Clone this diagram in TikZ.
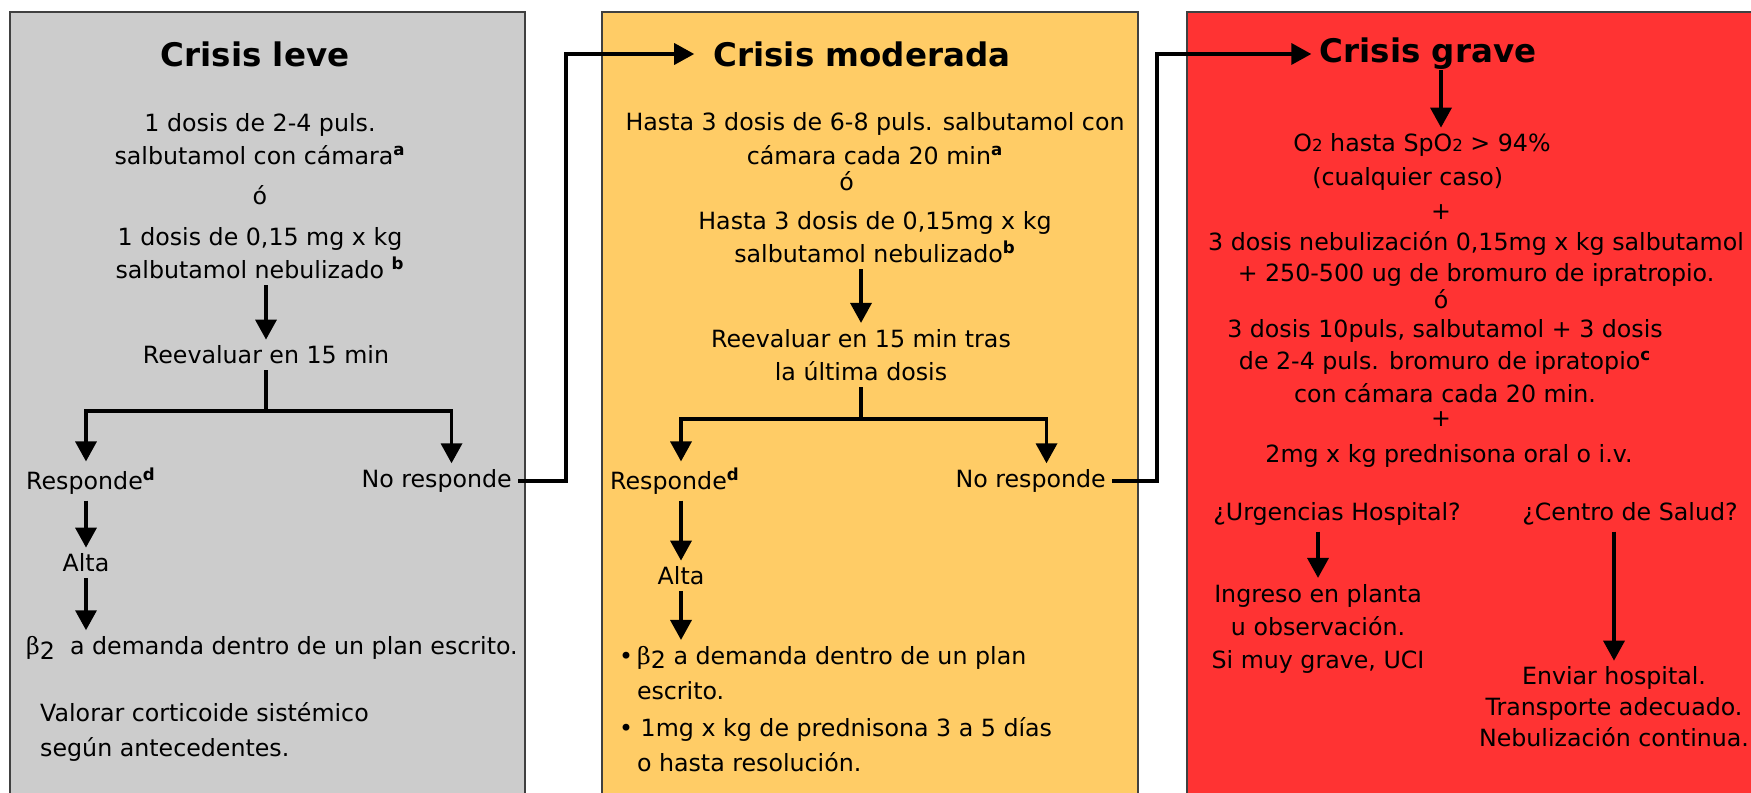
\documentclass[tikz,border=0pt]{standalone}
\usepackage{fontspec}
\setmainfont{DejaVu Sans}
\newfontfamily\betafont{DejaVu Serif}
\usepackage{amsmath}
\usepackage{xcolor}
\usepackage{tikz}
\usetikzlibrary{arrows.meta,positioning,calc}

\definecolor{leve}{HTML}{CCCCCC}
\definecolor{moderada}{HTML}{FFCC66}
\definecolor{grave}{HTML}{FF3333}
\newcommand{\nota}[1]{\textsuperscript{\textbf{#1}}}
\newcommand{\dos}{{\fontsize{9.5}{9.5}\selectfont 2}}
\newcommand{\betados}{{\betafont β}\raisebox{-0.35ex}{2}}

\begin{document}
\begin{tikzpicture}[
    x=0.02cm, y=0.02cm,
    panel/.style={draw=black!75, line width=0.8pt},
    title/.style={font=\fontsize{18.5}{22}\selectfont\bfseries, inner sep=0pt},
    txt/.style={font=\fontsize{13.5}{19}\selectfont, align=center},
    arrow/.style={-{Triangle[length=0.4cm, width=0.42cm]}, line width=2pt},
    link/.style={line width=2pt}
]
    \useasboundingbox (0,0) rectangle (1751,-793);
    \clip (0,0) rectangle (1751,-793);

    % Panels
    \draw[panel, fill=leve] (10,-12) rectangle (525,-810);
    \draw[panel, fill=moderada] (602,-12) rectangle (1138,-810);
    \draw[panel, fill=grave] (1187,-12) rectangle (1770,-810);

    % Crisis leve
    \node[title] (leve) at (255,-54) {Crisis leve};
    \node[txt] (dosis1) at (260,-196) {1 dosis de 2-4 puls.\\salbutamol con cámara\nota{a}\\[4pt]ó\\[4pt]1 dosis de 0,15 mg x kg\\ salbutamol nebulizado \nota{b}};
    \node[txt] (reeval1) at (266,-355) {Reevaluar en 15 min};
    \coordinate (fork1) at (266,-411);
    \node[txt, anchor=west] (resp1) at (20,-481) {Responde\nota{d}};
    \node[txt, anchor=east] (noresp1) at (518,-481) {No responde};
    \node[txt] (alta1) at (86,-563) {Alta};
    \node[txt, anchor=west] (beta1) at (20,-648) {\betados\ \ a demanda dentro de un plan escrito.};
    \node[txt, anchor=west, align=left] (cortic1) at (34,-732) {Valorar corticoide sistémico\\[1pt]según antecedentes.};

    \draw[arrow] (dosis1.south -| reeval1) -- (reeval1);
    \draw[link] (reeval1) -- (fork1);
    \draw[arrow] (fork1) -| (alta1 |- resp1.north);
    \draw[arrow] (fork1) -| ([xshift=-1.33cm]noresp1.north east);
    \draw[arrow] (resp1.south -| alta1) -- (alta1);
    \draw[arrow] (alta1) -- (beta1.north -| alta1);

    % Crisis moderada
    \node[title] (moderada) at (862,-54) {Crisis moderada};
    \node[txt] (dosis2) at (875,-188) {Hasta 3 dosis de 6-8 puls. salbutamol con\\cámara cada 20 min\nota{a}\\[-4pt]\hspace*{-2.4em}ó\\[3pt]Hasta 3 dosis de 0,15mg x kg\\salbutamol nebulizado\nota{b}};
    \node[txt] (reeval2) at (861,-355) {Reevaluar en 15 min tras\\la última dosis};
    \coordinate (fork2) at (861,-419);
    \node[txt, anchor=west] (resp2) at (604,-481) {Responde\nota{d}};
    \node[txt, anchor=east] (noresp2) at (1112,-481) {No responde};
    \node[txt] (alta2) at (681,-576) {Alta};
    \node[txt, anchor=west, align=left, font=\fontsize{13.5}{20}\selectfont] (plan2) at (613,-709) {\textbullet\,\betados\ a demanda dentro de un plan\\\hspace*{0.75em}escrito.\\[1pt]\textbullet\ 1mg x kg de prednisona 3 a 5 días\\\hspace*{0.75em}o hasta resolución.};

    \draw[arrow] (dosis2.south -| reeval2) -- (reeval2);
    \draw[link] (reeval2) -- (fork2);
    \draw[arrow] (fork2) -| (alta2 |- resp2.north);
    \draw[arrow] (fork2) -| ([xshift=-1.31cm]noresp2.north east);
    \draw[arrow] (resp2.south -| alta2) -- (alta2);
    \draw[arrow] (alta2) -- (plan2.north -| alta2);

    % Crisis grave
    \node[title] (grave) at (1428,-54) {Crisis grave};
    \node[txt] (oxig) at (1422,-162) {O\dos{} hasta SpO\dos{} > 94\%\\(cualquier caso)\hspace*{1.2em}};
    \node[txt] (plus1) at (1441,-212) {+};
    \node[txt, font=\fontsize{13.5}{18}\selectfont] (nebu) at (1476,-259) {3 dosis nebulización 0,15mg x kg salbutamol\\+ 250-500 ug de bromuro de ipratropio.};
    \node[txt] (or3) at (1441,-299) {ó};
    \node[txt, font=\fontsize{13.5}{18.5}\selectfont] (puls) at (1445,-361) {3 dosis 10puls, salbutamol + 3 dosis\\de 2-4 puls. bromuro de ipratopio\nota{c}\\con cámara cada 20 min.};
    \node[txt] (plus2) at (1441,-419) {+};
    \node[txt] (pred) at (1449,-456) {2mg x kg prednisona oral o i.v.};
    \node[txt] (urg) at (1337,-514) {¿Urgencias Hospital?};
    \node[txt] (centro) at (1630,-514) {¿Centro de Salud?};
    \node[txt] (ingreso) at (1318,-629) {Ingreso en planta\\u observación.\\Si muy grave, UCI};
    \node[txt, font=\fontsize{13.5}{17.6}\selectfont] (enviar) at (1614,-707) {Enviar hospital.\\Transporte adecuado.\\Nebulización continua.};

    \draw[arrow] (grave.south -| plus1) -- (oxig.north -| plus1);
    \draw[arrow] (urg.south -| ingreso) -- (ingreso);
    \draw[arrow] (centro.south -| enviar) -- (enviar);

    % Links between panels
    \draw[arrow, shorten >=0.38cm] (noresp1.east) -- ++(48,0) |- (moderada.west);
    \draw[arrow, shorten >=0.16cm] (noresp2.east) -- ++(45,0) |- (grave.west);
\end{tikzpicture}
\end{document}
